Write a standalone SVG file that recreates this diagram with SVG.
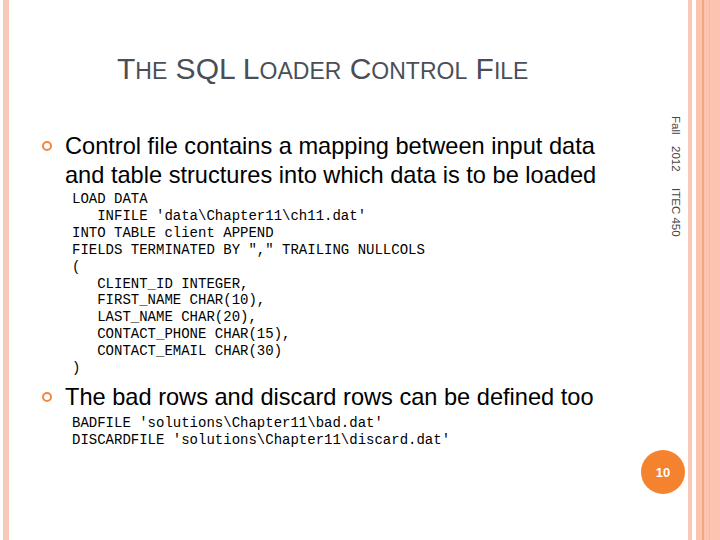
<svg xmlns="http://www.w3.org/2000/svg" width="720" height="540" viewBox="0 0 720 540">
<style>
.b{font-family:"Liberation Sans",Arial,sans-serif;font-size:23.6px;fill:#000}
.c{font-family:"Liberation Mono","Courier New",monospace;font-size:14px;fill:#000;white-space:pre}
.t{font-family:"Liberation Sans",Arial,sans-serif;fill:#4a4f57}
.v{font-family:"Liberation Sans",Arial,sans-serif;font-size:11.5px;fill:#444}
</style>
<rect width="720" height="540" fill="#fff"/>
<rect x="3" y="0" width="6" height="540" fill="#f9c9b8"/>
<rect x="688" y="0" width="4" height="540" fill="#f9c9b8"/>
<rect x="696" y="0" width="24" height="540" fill="#fcc4b0"/>
<rect x="702" y="0" width="2" height="540" fill="#f0a880"/>
<rect x="709" y="0" width="1" height="540" fill="#f5b89c"/>
<text x="117" y="79" class="t" font-size="30">T<tspan font-size="23">HE</tspan> SQL L<tspan font-size="23">OADER</tspan> C<tspan font-size="23">ONTROL</tspan> F<tspan font-size="23">ILE</tspan></text>
<g class="v">
<text transform="translate(672,116) rotate(90)">Fall</text>
<text transform="translate(672,146) rotate(90)">2012</text>
<text transform="translate(672,188) rotate(90)">ITEC 450</text>
</g>
<circle cx="47" cy="146" r="4" fill="none" stroke="#f0883e" stroke-width="2"/>
<text x="65" y="154" class="b">Control file contains a mapping between input data</text>
<text x="65" y="183" class="b">and table structures into which data is to be loaded</text>
<text class="c"><tspan x="72" y="203">LOAD DATA</tspan><tspan x="72" y="220">   INFILE 'data\Chapter11\ch11.dat'</tspan><tspan x="72" y="237">INTO TABLE client APPEND</tspan><tspan x="72" y="254">FIELDS TERMINATED BY "," TRAILING NULLCOLS</tspan><tspan x="72" y="271">(</tspan><tspan x="72" y="288">   CLIENT_ID INTEGER,</tspan><tspan x="72" y="304">   FIRST_NAME CHAR(10),</tspan><tspan x="72" y="321">   LAST_NAME CHAR(20),</tspan><tspan x="72" y="338">   CONTACT_PHONE CHAR(15),</tspan><tspan x="72" y="355">   CONTACT_EMAIL CHAR(30)</tspan><tspan x="72" y="372">)</tspan></text>
<circle cx="47" cy="397" r="4" fill="none" stroke="#f0883e" stroke-width="2"/>
<text x="65" y="405" class="b">The bad rows and discard rows can be defined too</text>
<text class="c"><tspan x="72" y="427">BADFILE 'solutions\Chapter11\bad.dat'</tspan><tspan x="72" y="444">DISCARDFILE 'solutions\Chapter11\discard.dat'</tspan></text>
<circle cx="663" cy="472" r="22" fill="#f5822e"/>
<text x="663" y="477" text-anchor="middle" font-family="Liberation Sans,Arial,sans-serif" font-size="13" font-weight="bold" fill="#fff">10</text>
</svg>
